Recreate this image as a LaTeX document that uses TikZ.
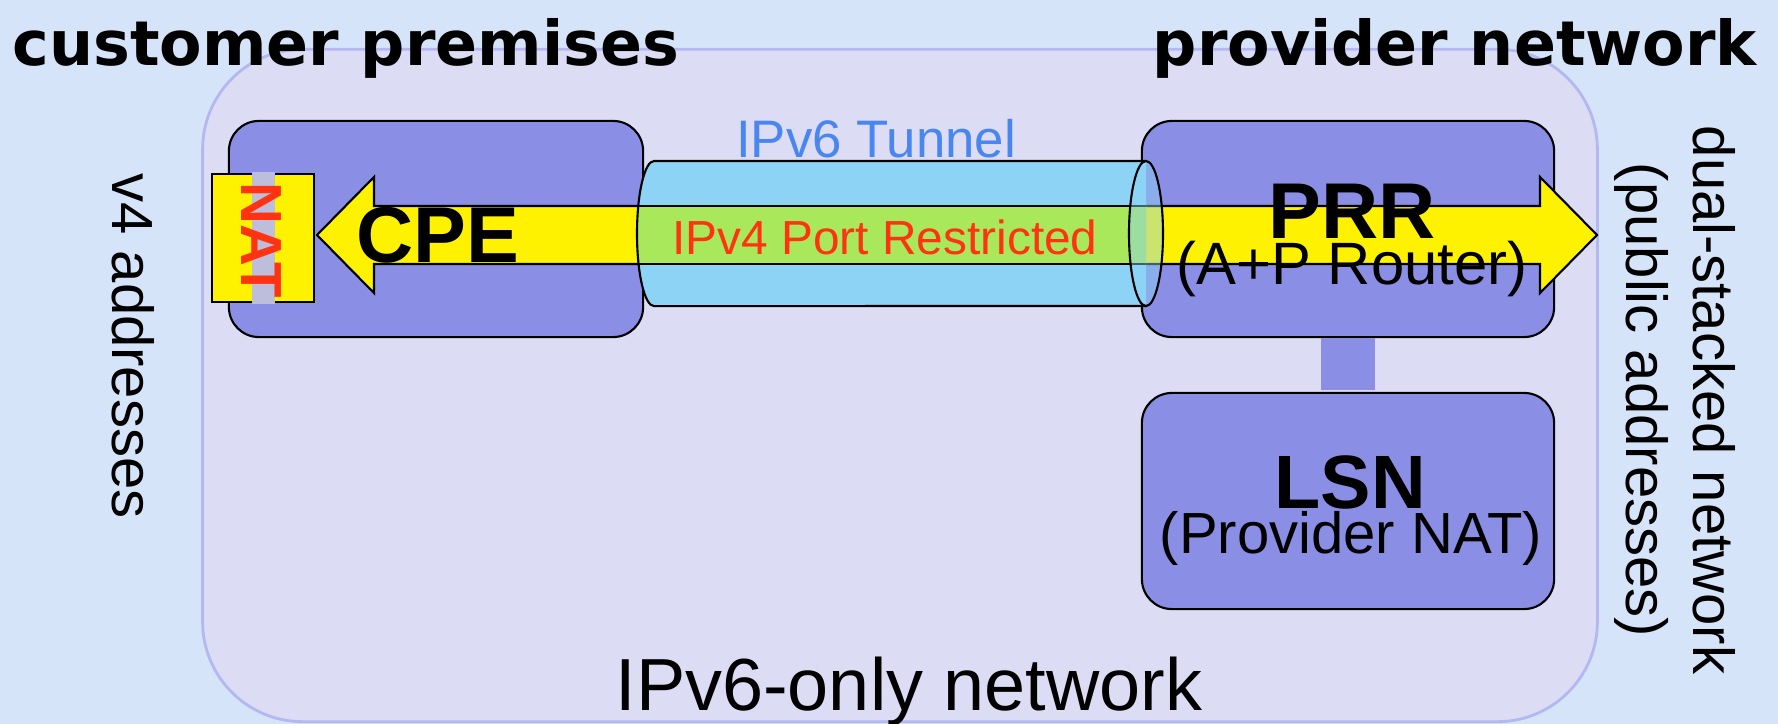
\documentclass[tikz,border=0pt]{standalone}
\usepackage{fontspec}
\setmainfont{Liberation Sans}
\newfontfamily\headfont{DejaVu Sans}
\usepackage{tikz}
\usetikzlibrary{positioning,calc,shapes.geometric}

\definecolor{skyback}{HTML}{D6E4F9}
\definecolor{v6fill}{HTML}{DCDCF5}
\definecolor{v6line}{HTML}{B4B8F0}
\definecolor{boxblue}{HTML}{8A8EE4}
\definecolor{tunblue}{HTML}{8CD3F5}
\definecolor{tungreen}{HTML}{A8E85A}
\definecolor{tuntext}{HTML}{4A86F0}
\definecolor{natred}{HTML}{FF3311}
\definecolor{natglow}{HTML}{BCBEDC}

\begin{document}
\begin{tikzpicture}[x=0.01cm, y=-0.01cm,
    box/.style={draw, fill=boxblue, rounded corners=0.3cm, line width=0.6pt, minimum width=4.12cm, minimum height=2.16cm},
    txt/.style={inner sep=0pt, anchor=base}]
    % background
    \fill[skyback] (0,0) rectangle (1778,724);
    \useasboundingbox (0,0) rectangle (1778,724);

    % IPv6-only network
    \node[draw=v6line, fill=v6fill, line width=0.8pt, rounded corners=1cm, minimum width=13.94cm, minimum height=6.72cm] (v6net) at (900,385.5) {};

    % boxes
    \node[box] (lsn) at (1348,501) {};
    \node[box] (prr) at (1348,229) {};
    \node[box, minimum width=4.14cm] (cpe) at (436,229) {};
    \draw[boxblue, line width=0.54cm, shorten >=0.4pt] (prr.south) -- (lsn.north);

    % NAT on the CPE
    \node[draw, fill=yellow, line width=0.6pt, minimum width=1.02cm, minimum height=1.28cm] (nat) at (263,238) {};
    \fill[natglow] (252,172) rectangle (275,304);
    \node[inner sep=0pt, rotate=-90, text=natred, font=\fontsize{16.5}{20}\selectfont\bfseries] (natlbl) at (261,240) {NAT};

    % v4 traffic, both ways
    \filldraw[fill=yellow, line width=0.6pt] (317,235) -- (374,177) -- (374,206) -- (1540,206) -- (1540,177) -- (1597,235) -- (1540,293) -- (1540,264) -- (374,264) -- (374,293) -- cycle;

    % tunnel
    \fill[tunblue] (1146,161) -- (654,161) arc[start angle=90, end angle=270, x radius=0.17cm, y radius=0.725cm] -- (1146,306) -- cycle;
    \begin{scope}
      \clip (1146,161) -- (654,161) arc[start angle=90, end angle=270, x radius=0.17cm, y radius=0.725cm] -- (1146,306) -- cycle;
      \fill[tungreen] (620,206) rectangle (1150,264);
      \draw[line width=0.6pt] (620,206) -- (1150,206) (620,264) -- (1150,264);
    \end{scope}
    \draw[line width=0.6pt] (1146,161) -- (654,161) arc[start angle=90, end angle=270, x radius=0.17cm, y radius=0.725cm] -- (1146,306);
    \node[ellipse, draw, fill=tunblue, fill opacity=0.45, line width=0.6pt, minimum width=0.34cm, minimum height=1.45cm, inner sep=0pt] (tunend) at (1146,233.5) {};

    % labels
    \node[txt, font=\fontsize{22.5}{27}\selectfont\bfseries] (cpelbl) at (438,262) {CPE};
    \node[txt, text=tuntext, font=\fontsize{15}{18}\selectfont] (tunlbl) at (876,157) {IPv6 Tunnel};
    \node[txt, text=natred, font=\fontsize{13.6}{16}\selectfont] (portlbl) at (885,254) {IPv4 Port Restricted};
    \node[txt, font=\fontsize{22.5}{27}\selectfont\bfseries] (prrlbl) at (1352,238) {PRR};
    \node[txt, font=\fontsize{17}{20}\selectfont] (prrsub) at (1352,284) {(A+P Router)};
    \node[txt, font=\fontsize{21.5}{26}\selectfont\bfseries] (lsnlbl) at (1350,508) {LSN};
    \node[txt, font=\fontsize{16.5}{20}\selectfont] (lsnsub) at (1351,553) {(Provider NAT)};
    \node[txt, font=\fontsize{21}{25}\selectfont] (v6lbl) at (909,710) {IPv6-only network};

    % side texts
    \node[txt, rotate=-90, font=\fontsize{16.5}{20}\selectfont] (v4lbl) at (113,346) {v4 addresses};
    \node[txt, rotate=-90, font=\fontsize{16.5}{20}\selectfont] (duallbl) at (1693,400) {dual-stacked network};
    \node[txt, rotate=-90, font=\fontsize{16.5}{20}\selectfont] (publbl) at (1626,400) {(public addresses)};

    % headings
    \node[txt, anchor=base west, font=\headfont\fontsize{17.6}{21}\selectfont\bfseries] (custlbl) at (12,65) {customer premises};
    \node[txt, anchor=base west, font=\headfont\fontsize{17.6}{21}\selectfont\bfseries] (provlbl) at (1152,65) {provider network};
\end{tikzpicture}
\end{document}
